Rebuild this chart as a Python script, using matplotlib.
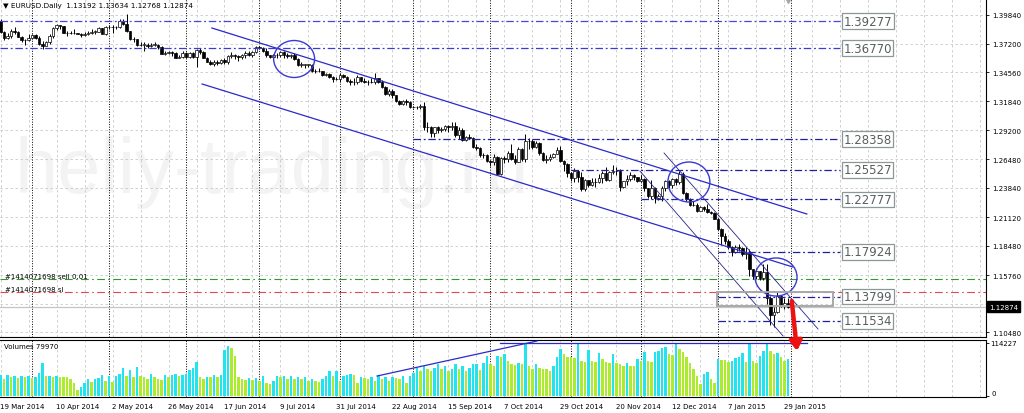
import matplotlib
matplotlib.use('Agg')
import matplotlib.pyplot as plt
import matplotlib.transforms as mtransforms
from matplotlib.patches import Ellipse, Rectangle
import numpy as np
import pandas as pd

plt.rcParams['font.family'] = ['DejaVu Sans']

# daily bars as the terminal shows them (no bars on 25 Dec and 1 Jan)
dates = pd.bdate_range('2014-03-19', '2015-01-30')
dates = dates[~dates.isin(pd.to_datetime(['2014-12-25', '2015-01-01']))]

opens = [
    1.3930, 1.3830, 1.3775, 1.3790, 1.3835, 1.3825, 1.3785, 1.3750, 1.3750,
    1.3770, 1.3795, 1.3770, 1.3720, 1.3700, 1.3730, 1.3790, 1.3865, 1.3890, 1.3885, 1.3815,
    1.3815, 1.3820, 1.3815, 1.3810, 1.3795, 1.3810, 1.3815, 1.3830, 1.3830, 1.3860, 1.3810,
    1.3870, 1.3870, 1.3870, 1.3875, 1.3925, 1.3905, 1.3835, 1.3760, 1.3760, 1.3705, 1.3710,
    1.3710, 1.3695, 1.3710, 1.3710, 1.3685, 1.3625, 1.3630, 1.3640, 1.3635, 1.3590, 1.3595,
    1.3635, 1.3595, 1.3630, 1.3595, 1.3660, 1.3640, 1.3590, 1.3550, 1.3535, 1.3545, 1.3540,
    1.3570, 1.3545, 1.3605, 1.3615, 1.3605, 1.3600, 1.3610, 1.3635, 1.3615, 1.3645,
    1.3690, 1.3680, 1.3655, 1.3610, 1.3595, 1.3610, 1.3615, 1.3640, 1.3615, 1.3605, 1.3610,
    1.3575, 1.3525, 1.3525, 1.3525, 1.3525, 1.3465, 1.3465, 1.3465, 1.3430, 1.3440, 1.3410, 1.3395,
    1.3390, 1.3425, 1.3415, 1.3375, 1.3360, 1.3360, 1.3410, 1.3375, 1.3365, 1.3360, 1.3365,
    1.3400, 1.3365, 1.3320, 1.3250, 1.3280, 1.3240, 1.3190, 1.3165, 1.3190, 1.3180,
    1.3130, 1.3130, 1.3130, 1.3145, 1.2945, 1.2950, 1.2890, 1.2945, 1.2920, 1.2925, 1.2960,
    1.2950, 1.2960, 1.2870, 1.2920, 1.2830, 1.2855, 1.2845, 1.2765, 1.2750, 1.2685, 1.2685,
    1.2630, 1.2620, 1.2670, 1.2510, 1.2660, 1.2650, 1.2710, 1.2655, 1.2625, 1.2745, 1.2650,
    1.2815, 1.2815, 1.2760, 1.2800, 1.2710, 1.2645, 1.2650, 1.2670, 1.2700, 1.2735, 1.2630, 1.2610,
    1.2525, 1.2480, 1.2545, 1.2490, 1.2375, 1.2455, 1.2410, 1.2435, 1.2440, 1.2475,
    1.2525, 1.2455, 1.2535, 1.2545, 1.2540, 1.2390, 1.2445, 1.2470, 1.2505, 1.2485,
    1.2450, 1.2470, 1.2380, 1.2310, 1.2380, 1.2290, 1.2310, 1.2380, 1.2445, 1.2410, 1.2465,
    1.2440, 1.2510, 1.2335, 1.2285, 1.2225, 1.2225, 1.2175, 1.2205, 1.2185, 1.2160, 1.2155,
    1.2100, 1.2000, 1.1935, 1.1890, 1.1840, 1.1790, 1.1840, 1.1830, 1.1775, 1.1780, 1.1630,
    1.1565, 1.1615, 1.1550, 1.1610, 1.1365, 1.1205, 1.1240, 1.1380, 1.1290, 1.13192,
]
highs = [
    1.3945, 1.3835, 1.3815, 1.3855, 1.3875, 1.3840, 1.3790, 1.3765, 1.3810,
    1.3810, 1.3805, 1.3790, 1.3745, 1.3745, 1.3810, 1.3870, 1.3905, 1.3895, 1.3885, 1.3835,
    1.3835, 1.3850, 1.3820, 1.3815, 1.3830, 1.3835, 1.3855, 1.3845, 1.3875, 1.3865, 1.3880,
    1.3890, 1.3890, 1.3885, 1.3950, 1.3950, 1.3995, 1.3840, 1.3780, 1.3765, 1.3730, 1.3730,
    1.3725, 1.3725, 1.3730, 1.3720, 1.3695, 1.3650, 1.3655, 1.3650, 1.3640, 1.3615, 1.3650,
    1.3640, 1.3645, 1.3640, 1.3670, 1.3675, 1.3650, 1.3595, 1.3570, 1.3565, 1.3565, 1.3580,
    1.3585, 1.3610, 1.3645, 1.3625, 1.3615, 1.3625, 1.3650, 1.3650, 1.3655, 1.3695,
    1.3700, 1.3690, 1.3680, 1.3615, 1.3625, 1.3630, 1.3650, 1.3650, 1.3630, 1.3625, 1.3630,
    1.3590, 1.3545, 1.3535, 1.3535, 1.3530, 1.3480, 1.3490, 1.3470, 1.3445, 1.3445, 1.3420, 1.3410,
    1.3445, 1.3440, 1.3420, 1.3395, 1.3405, 1.3430, 1.3415, 1.3400, 1.3385, 1.3400, 1.3445,
    1.3400, 1.3380, 1.3330, 1.3295, 1.3295, 1.3245, 1.3200, 1.3195, 1.3210, 1.3190,
    1.3145, 1.3140, 1.3160, 1.3175, 1.2990, 1.2955, 1.2950, 1.2955, 1.2950, 1.2970, 1.2965,
    1.2990, 1.2995, 1.2950, 1.2935, 1.2865, 1.2885, 1.2860, 1.2790, 1.2760, 1.2710, 1.2695,
    1.2645, 1.2700, 1.2680, 1.2670, 1.2680, 1.2730, 1.2790, 1.2690, 1.2760, 1.2755, 1.2885,
    1.2845, 1.2835, 1.2815, 1.2805, 1.2720, 1.2685, 1.2700, 1.2710, 1.2760, 1.2770, 1.2640, 1.2615,
    1.2535, 1.2570, 1.2550, 1.2530, 1.2465, 1.2460, 1.2480, 1.2475, 1.2510, 1.2545,
    1.2575, 1.2545, 1.2600, 1.2575, 1.2560, 1.2450, 1.2500, 1.2530, 1.2510, 1.2490,
    1.2500, 1.2475, 1.2385, 1.2455, 1.2390, 1.2330, 1.2400, 1.2455, 1.2455, 1.2475, 1.2475,
    1.2545, 1.2530, 1.2345, 1.2295, 1.2260, 1.2245, 1.2215, 1.2220, 1.2235, 1.2175, 1.2165,
    1.2110, 1.2010, 1.1970, 1.1910, 1.1850, 1.1860, 1.1865, 1.1840, 1.1840, 1.1815, 1.1635,
    1.1640, 1.1620, 1.1680, 1.1680, 1.1385, 1.1285, 1.1420, 1.1385, 1.1365, 1.13634,
]
lows = [
    1.3815, 1.3750, 1.3760, 1.3775, 1.3810, 1.3780, 1.3735, 1.3705, 1.3740,
    1.3765, 1.3765, 1.3705, 1.3670, 1.3695, 1.3715, 1.3775, 1.3845, 1.3850, 1.3815, 1.3790,
    1.3805, 1.3810, 1.3805, 1.3780, 1.3790, 1.3795, 1.3805, 1.3805, 1.3825, 1.3805, 1.3800,
    1.3855, 1.3815, 1.3850, 1.3865, 1.3895, 1.3830, 1.3755, 1.3735, 1.3700, 1.3695, 1.3650,
    1.3680, 1.3690, 1.3695, 1.3670, 1.3620, 1.3615, 1.3620, 1.3605, 1.3585, 1.3585, 1.3590,
    1.3590, 1.3590, 1.3590, 1.3500, 1.3625, 1.3585, 1.3545, 1.3525, 1.3510, 1.3520, 1.3535,
    1.3530, 1.3535, 1.3590, 1.3580, 1.3560, 1.3575, 1.3590, 1.3605, 1.3600, 1.3630,
    1.3670, 1.3645, 1.3600, 1.3590, 1.3585, 1.3585, 1.3600, 1.3590, 1.3590, 1.3590, 1.3565,
    1.3515, 1.3505, 1.3495, 1.3505, 1.3460, 1.3445, 1.3455, 1.3420, 1.3420, 1.3405, 1.3365, 1.3385,
    1.3365, 1.3405, 1.3365, 1.3335, 1.3335, 1.3350, 1.3365, 1.3355, 1.3340, 1.3355, 1.3345,
    1.3355, 1.3310, 1.3240, 1.3235, 1.3215, 1.3175, 1.3155, 1.3155, 1.3150, 1.3125,
    1.3120, 1.3110, 1.3115, 1.2920, 1.2900, 1.2860, 1.2860, 1.2890, 1.2900, 1.2910, 1.2905,
    1.2920, 1.2860, 1.2835, 1.2815, 1.2815, 1.2835, 1.2755, 1.2735, 1.2670, 1.2665, 1.2625,
    1.2590, 1.2600, 1.2500, 1.2505, 1.2615, 1.2625, 1.2645, 1.2610, 1.2620, 1.2635, 1.2620,
    1.2740, 1.2745, 1.2755, 1.2690, 1.2635, 1.2615, 1.2635, 1.2660, 1.2695, 1.2625, 1.2545, 1.2485,
    1.2445, 1.2440, 1.2440, 1.2355, 1.2360, 1.2390, 1.2405, 1.2395, 1.2430, 1.2430,
    1.2445, 1.2445, 1.2515, 1.2505, 1.2360, 1.2385, 1.2410, 1.2445, 1.2460, 1.2435,
    1.2440, 1.2360, 1.2290, 1.2280, 1.2245, 1.2270, 1.2260, 1.2355, 1.2385, 1.2385, 1.2415,
    1.2425, 1.2330, 1.2265, 1.2220, 1.2215, 1.2165, 1.2170, 1.2175, 1.2150, 1.2140, 1.2095,
    1.1995, 1.1860, 1.1865, 1.1820, 1.1755, 1.1780, 1.1800, 1.1750, 1.1730, 1.1565, 1.1540,
    1.1545, 1.1535, 1.1535, 1.1315, 1.1115, 1.1100, 1.1225, 1.1285, 1.1260, 1.12768,
]
closes = [
    1.3830, 1.3775, 1.3790, 1.3835, 1.3825, 1.3785, 1.3750, 1.3750, 1.3770,
    1.3795, 1.3770, 1.3720, 1.3700, 1.3730, 1.3790, 1.3865, 1.3890, 1.3885, 1.3815, 1.3815,
    1.3820, 1.3815, 1.3810, 1.3795, 1.3810, 1.3815, 1.3830, 1.3830, 1.3860, 1.3810, 1.3870,
    1.3870, 1.3870, 1.3875, 1.3925, 1.3905, 1.3835, 1.3760, 1.3760, 1.3705, 1.3710, 1.3710,
    1.3695, 1.3710, 1.3710, 1.3685, 1.3625, 1.3630, 1.3640, 1.3635, 1.3590, 1.3595, 1.3635,
    1.3595, 1.3630, 1.3595, 1.3660, 1.3640, 1.3590, 1.3550, 1.3535, 1.3545, 1.3540, 1.3570,
    1.3545, 1.3605, 1.3615, 1.3605, 1.3600, 1.3610, 1.3635, 1.3615, 1.3645, 1.3690,
    1.3680, 1.3655, 1.3610, 1.3595, 1.3610, 1.3615, 1.3640, 1.3615, 1.3605, 1.3610, 1.3575,
    1.3525, 1.3525, 1.3525, 1.3525, 1.3465, 1.3465, 1.3465, 1.3430, 1.3440, 1.3410, 1.3395, 1.3390,
    1.3425, 1.3415, 1.3375, 1.3360, 1.3360, 1.3410, 1.3375, 1.3365, 1.3360, 1.3365, 1.3400,
    1.3365, 1.3320, 1.3250, 1.3280, 1.3240, 1.3190, 1.3165, 1.3190, 1.3180, 1.3130,
    1.3130, 1.3130, 1.3145, 1.2945, 1.2950, 1.2890, 1.2945, 1.2920, 1.2925, 1.2960, 1.2950,
    1.2960, 1.2870, 1.2920, 1.2830, 1.2855, 1.2845, 1.2765, 1.2750, 1.2685, 1.2685, 1.2630,
    1.2620, 1.2670, 1.2510, 1.2660, 1.2650, 1.2710, 1.2655, 1.2625, 1.2745, 1.2650, 1.2815,
    1.2815, 1.2760, 1.2800, 1.2710, 1.2645, 1.2650, 1.2670, 1.2700, 1.2735, 1.2630, 1.2610, 1.2525,
    1.2480, 1.2545, 1.2490, 1.2375, 1.2455, 1.2410, 1.2435, 1.2440, 1.2475, 1.2525,
    1.2455, 1.2535, 1.2545, 1.2540, 1.2390, 1.2445, 1.2470, 1.2505, 1.2485, 1.2450,
    1.2470, 1.2380, 1.2310, 1.2380, 1.2290, 1.2310, 1.2380, 1.2445, 1.2410, 1.2465, 1.2440,
    1.2510, 1.2335, 1.2285, 1.2225, 1.2225, 1.2175, 1.2205, 1.2185, 1.2160, 1.2155, 1.2100,
    1.2000, 1.1935, 1.1890, 1.1840, 1.1790, 1.1840, 1.1830, 1.1775, 1.1780, 1.1630, 1.1565,
    1.1615, 1.1550, 1.1610, 1.1365, 1.1205, 1.1240, 1.1380, 1.1290, 1.1320, 1.12874,
]
# tick volume, thousands
volumes_k = [
    45, 36, 46, 40, 44, 38, 44, 40, 44, 38,
    41, 50, 72, 43, 44, 42, 44, 42, 41, 40,
    36, 27, 12, 20, 28, 36, 30, 36, 38, 46,
    33, 43, 30, 43, 48, 60, 43, 55, 42, 63,
    43, 40, 36, 48, 40, 36, 34, 46, 42, 46,
    47, 44, 46, 48, 55, 60, 74, 40, 36, 42,
    40, 46, 42, 45, 100, 108, 104, 86, 40, 36,
    35, 38, 35, 38, 33, 43, 28, 25, 32, 43,
    42, 43, 36, 43, 36, 40, 36, 40, 33, 36,
    33, 30, 36, 43, 53, 43, 54, 33, 43, 46,
    48, 46, 29, 40, 38, 36, 40, 33, 43, 36,
    40, 33, 40, 38, 36, 43, 29, 43, 50, 61,
    54, 65, 58, 54, 61, 68, 58, 65, 54, 58,
    68, 58, 65, 54, 61, 68, 70, 56, 72, 87,
    68, 65, 87, 83, 90, 75, 69, 66, 72, 68,
    112, 65, 58, 69, 61, 59, 58, 54, 65, 83,
    101, 90, 85, 83, 81, 112, 76, 74, 100, 76,
    74, 93, 80, 74, 72, 90, 72, 69, 65, 72,
    65, 64, 80, 76, 94, 76, 74, 94, 98, 103,
    105, 90, 88, 113.5, 101, 94, 85, 72, 58, 43,
    25, 47, 51, 36, 27, 80, 78, 77, 74, 76,
    81, 85, 93, 74, 113.8, 76, 72, 87, 98, 114.227,
    98, 90, 92, 83, 76, 79.970,
]

price_ticks = [1.39840, 1.37200, 1.34560, 1.31840, 1.29200, 1.26480,
               1.23840, 1.21120, 1.18480, 1.15760, 1.13120, 1.10480]

# horizontal levels and the bar where each one starts
levels = [1.39277, 1.36770, 1.28358, 1.25527, 1.22777, 1.17924, 1.13799, 1.11534]
level_from = [None, None, '2014-09-01', '2014-11-03', '2014-12-01',
              '2015-01-02', '2015-01-02', '2015-01-02']
level_to_bar = 240

# trend lines: (bar, price) ends
channel_upper = [(60.4, 1.38637), (230.4, 1.21431)]
channel_lower = [(57.6, 1.33457), (226.4, 1.16529)]
steep_upper = [(189.6, 1.27074), (233.6, 1.10793)]
steep_lower = [(182.7, 1.25409), (223.6, 1.10146)]

# circles: centre bar, centre price, width in bars, height in price
circles = [(83.9, 1.35770, 11.7, 0.0342),
           (196.7, 1.24391, 12.0, 0.0370),
           (221.6, 1.15603, 12.0, 0.0352)]

box_bars = (204.7, 237.9)
box_prices = (1.12921, 1.14216)

ticket = '#1414071698'
sell_price = 1.15418
sl_price = 1.14216
last_price = 1.12874

vol_trend = [(107.6, 43.1), (153.3, 118.5)]
vol_level = [(142.7, 114.227), (230.4, 114.227)]

# ---------------------------------------------------------------
W, H = 1024, 414
fig = plt.figure(figsize=(W / 100, H / 100), dpi=100)
ax = fig.add_axes([0, 1 - 338 / H, 986 / W, 338 / H])
axv = fig.add_axes([0, 1 - 398 / H, 986 / W, 57 / H])
ax.set_zorder(3)

n = len(dates)
x = np.arange(n)
o = np.array(opens)
h = np.array(highs)
l = np.array(lows)
c = np.array(closes)
vol = np.array(volumes_k)
xlim = (-0.15, 281.6)

seps = [i for i in range(1, n) if dates[i].month != dates[i - 1].month] + [n]
grid_col = '#c9c9c9'

for a in (ax, axv):
    a.set_xlim(*xlim)
    for gx in range(0, 282, 8):
        a.axvline(gx, color=grid_col, lw=0.6, ls=(0, (3, 3)), zorder=0.5)
    for sx in seps:
        a.axvline(sx, color='black', lw=0.7, ls=(0, (1, 1.6)), zorder=0.6)
    a.set_xticks([])
    a.spines['left'].set_visible(False)
    for s in ('right', 'bottom', 'top'):
        a.spines[s].set_linewidth(0.8)
ax.spines['top'].set_visible(False)

ax.set_ylim(1.10053, 1.41320)
for t in price_ticks:
    ax.axhline(t, color=grid_col, lw=0.6, ls=(0, (3, 3)), zorder=0.5)

ax.text(4.1, 1.23466, 'heliy-trading.ru', fontsize=56, family='Liberation Sans',
        color='#f3f3f3', ha='left', va='baseline', zorder=0.2)

# order lines and current price
ax.axhline(sell_price, color='#2e9a2e', lw=0.8, dashes=(7, 3, 1.5, 3), zorder=1)
ax.axhline(sl_price, color='#e8464c', lw=0.8, dashes=(7, 3, 1.5, 3), zorder=1)
ax.axhline(last_price, color='#c4c4c4', lw=0.9, zorder=1)
ax.text(1.2, sell_price + 0.0003, ticket + ' sell 0.01', fontsize=5, va='bottom', ha='left')
ax.text(1.2, sl_price + 0.0003, ticket + ' sl', fontsize=5, va='bottom', ha='left')

# candles
up = c >= o
ax.vlines(x, l, h, color='black', lw=0.7, zorder=3)
ax.bar(x, np.maximum(np.abs(c - o), 0.00025), bottom=np.minimum(o, c), width=0.72,
       color=np.where(up, 'white', 'black'), edgecolor='black', linewidth=0.5, zorder=4)

# levels with boxed labels
lev_cols = ['#4646e0', '#3a3ad6'] + ['#1f1fa0'] * 6
for lv, st, col in zip(levels, level_from, lev_cols):
    x0 = xlim[0] if st is None else dates.get_loc(pd.Timestamp(st))
    ax.plot([x0, level_to_bar], [lv, lv], color=col, lw=0.9,
            dashes=(6, 2.2, 1.5, 2.2), zorder=5)
    ax.text(level_to_bar + 0.9, lv, f'{lv:.5f}', fontsize=8.5, color='#56605f',
            ha='left', va='center', zorder=6,
            bbox=dict(boxstyle='square,pad=0.12', fc='white', ec='#8c9898', lw=0.9))

for line in (channel_upper, channel_lower):
    ax.plot([p[0] for p in line], [p[1] for p in line], color='#2a2ac8', lw=0.9, zorder=5)
for line in (steep_upper, steep_lower):
    ax.plot([p[0] for p in line], [p[1] for p in line], color='#24248c', lw=0.6, zorder=5)
for cx, cy, w, hh in circles:
    ax.add_patch(Ellipse((cx, cy), w, hh, fill=False, ec='#3a3ad2', lw=1.0, zorder=5))
ax.add_patch(Rectangle((box_bars[0], box_prices[0]), box_bars[1] - box_bars[0],
                       box_prices[1] - box_prices[0], fill=False, ec='#a8a8a8',
                       lw=1.4, zorder=5))

# sell signal arrow crossing into the volume window
ax.annotate('', xy=(227.6, 1.0876), xytext=(226.1, 1.1338),
            arrowprops=dict(arrowstyle='-|>,head_width=0.35,head_length=0.55',
                            color='#ee1111', lw=3.2, shrinkA=0, shrinkB=0),
            annotation_clip=False, zorder=7)
ax.plot(225, 1.4120, marker='v', color='#a6a6a6', ms=5, clip_on=False, zorder=6)

# price scale
ax.yaxis.tick_right()
ax.set_yticks(price_ticks)
ax.set_yticklabels(['' if abs(t - 1.1312) < 1e-6 else f'{t:.5f}' for t in price_ticks])
ax.tick_params(axis='y', length=2.5, width=0.6, labelsize=5, pad=2)
trans_p = mtransforms.blended_transform_factory(ax.transAxes, ax.transData)
ax.text(1.003, last_price, f'{last_price:.5f}', transform=trans_p, fontsize=5,
        color='white', ha='left', va='center', clip_on=False, zorder=8,
        bbox=dict(boxstyle='square,pad=0.3', fc='black', ec='black'))

ax.text(0.003, 0.982, '\u25bc EURUSD.Daily  1.13192 1.13634 1.12768 1.12874',
        transform=ax.transAxes, fontsize=5.2, ha='left', va='center')

# volumes
vol_cols = ['#22e3f0' if i == 0 or vol[i] > vol[i - 1] else '#adeb2f' for i in range(n)]
axv.bar(x, vol, width=0.78, color=vol_cols, linewidth=0, zorder=3)
axv.set_ylim(-2.155, 120.69)
axv.plot([p[0] for p in vol_trend], [p[1] for p in vol_trend], color='#2a2ac8', lw=0.9, zorder=4)
axv.plot([p[0] for p in vol_level], [p[1] for p in vol_level], color='#2a2ac8', lw=0.9, zorder=4)
axv.yaxis.tick_right()
axv.set_yticks([0, max(vol)])
axv.set_yticklabels([])
axv.tick_params(axis='y', length=2.5, width=0.6)
trans_v = mtransforms.blended_transform_factory(axv.transAxes, axv.transData)
axv.text(1.004, max(vol), f'{int(round(max(vol) * 1000))}', transform=trans_v,
         fontsize=5, ha='left', va='center')
axv.text(1.006, 0, '0', transform=trans_v, fontsize=5, ha='left', va='bottom')
axv.text(0.004, 0.9, f'Volumes {int(round(vol[-1] * 1000))}', transform=axv.transAxes,
         fontsize=5, ha='left', va='center')

trans_d = mtransforms.blended_transform_factory(axv.transData, axv.transAxes)
for i in range(0, n, 16):
    d = dates[i]
    axv.text(i - 0.2, -0.16, f'{d.day} {d.strftime("%b %Y")}', transform=trans_d,
             fontsize=5, ha='left', va='center', clip_on=False)

fig.savefig('out.png', dpi=100)
